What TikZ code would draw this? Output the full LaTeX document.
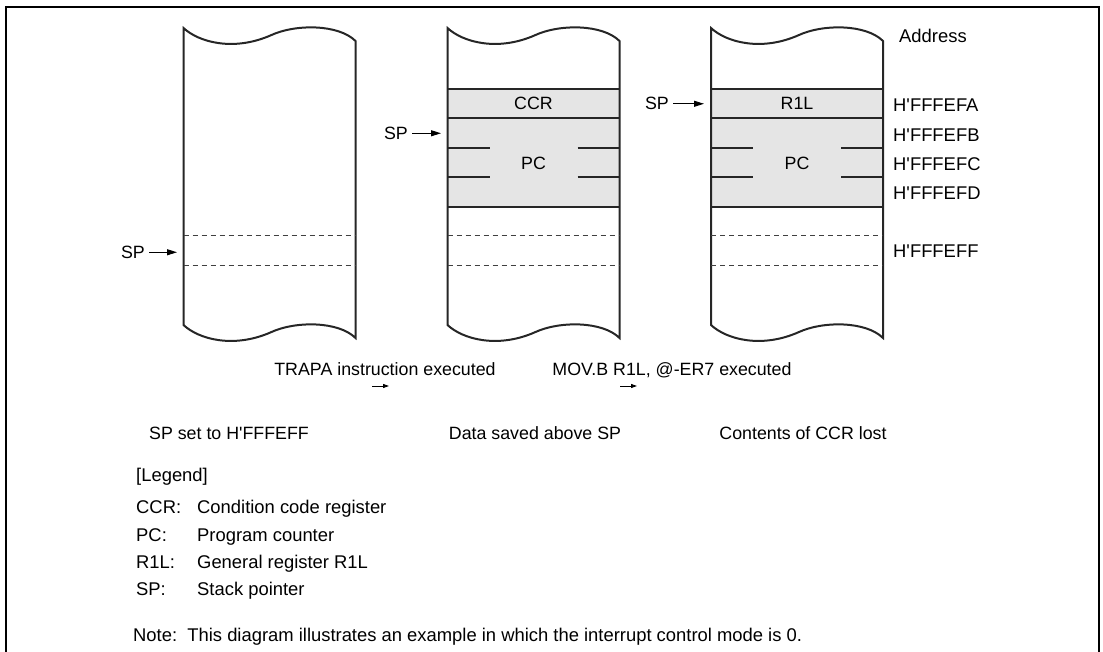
\documentclass[tikz,border=0pt]{standalone}
\usepackage{fontspec}
\setmainfont{Liberation Sans}
\usetikzlibrary{arrows.meta}
\newcommand\hq{H\textquotesingle}
\tikzset{
  txt/.style={inner sep=0pt, font=\fontsize{17.8}{21}\selectfont},
  legtxt/.style={inner sep=0pt, font=\fontsize{18.4}{22}\selectfont},
  colline/.style={line width=2pt, black!85},
  rowline/.style={line width=2pt, black!85},
  dashline/.style={line width=1pt, black!75, dash pattern=on 5pt off 4pt},
  sparrow/.style={line width=1pt, -{Triangle[length=10pt,width=6pt]}},
  smallarrow/.style={line width=1pt, -{Triangle[length=6pt,width=4pt]}},
  stackfill/.style={fill=black!10},
}
\newcommand\stackoutline{%
  \draw[colline] (0,28) .. controls (15,42) and (50,52) .. (88,35)
    .. controls (112,24) and (155,24) .. (172,41) -- (172,338)
    .. controls (155,321) and (112,321) .. (88,332)
    .. controls (50,349) and (15,339) .. (0,325) -- cycle;
  \draw[dashline] (0,236) -- (172,236);
  \draw[dashline] (0,266) -- (172,266);
}
\newcommand\stackfilled{%
  \fill[stackfill] (0,89) rectangle (172,207);
  \draw[rowline] (0,89) -- (172,89);
  \draw[rowline] (0,118) -- (172,118);
  \draw[rowline] (0,207) -- (172,207);
  \draw[rowline] (0,148) -- (42,148);
  \draw[rowline] (130,148) -- (172,148);
  \draw[rowline] (0,177) -- (42,177);
  \draw[rowline] (130,177) -- (172,177);
}
\begin{document}
\begin{tikzpicture}[x=1pt,y=-1pt]
\useasboundingbox (0,0) rectangle (1103,652);
\draw[line width=2.5pt] (6,652) -- (6,7) -- (1099,7) -- (1099,652);

% column 1
\begin{scope}[xshift=183.5pt]
  \stackoutline
\end{scope}
% column 2
\begin{scope}[xshift=447.5pt]
  \stackfilled
  \stackoutline
\end{scope}
% column 3
\begin{scope}[xshift=711pt]
  \stackfilled
  \stackoutline
\end{scope}

% labels inside stacks
\node[txt, anchor=base] (ccr) at (533.5,110) {CCR};
\node[txt, anchor=base] (pc2) at (533.5,169.5) {PC};
\node[txt, anchor=base] (r1l) at (797,110) {R1L};
\node[txt, anchor=base] (pc3) at (797,169.5) {PC};

% SP pointers
\node[txt, anchor=base east] (sp1) at (145,258.4) {SP};
\coordinate (sp1t) at (177,252);
\draw[sparrow] ([xshift=4pt]sp1.east) -- (sp1t |- sp1.east);
\node[txt, anchor=base east] (sp2) at (408,139.4) {SP};
\coordinate (sp2t) at (441,133);
\draw[sparrow] ([xshift=4pt]sp2.east) -- (sp2t |- sp2.east);
\node[txt, anchor=base east] (sp3) at (669,109.9) {SP};
\coordinate (sp3t) at (704,103.5);
\draw[sparrow] ([xshift=4pt]sp3.east) -- (sp3t |- sp3.east);

% addresses
\node[legtxt, anchor=base west] (addr) at (899,42.6) {Address};
\node[legtxt, anchor=base west] (a1) at (893,111.6) {\hq FFFEFA};
\node[legtxt, anchor=base west] (a2) at (893,141.1) {\hq FFFEFB};
\node[legtxt, anchor=base west] (a3) at (893,170.6) {\hq FFFEFC};
\node[legtxt, anchor=base west] (a4) at (893,199.6) {\hq FFFEFD};
\node[legtxt, anchor=base west] (a5) at (893,257.6) {\hq FFFEFF};

% transitions
\node[txt, anchor=base] (t1) at (385,375.4) {TRAPA instruction executed};
\coordinate (t1a) at (372,386);
\coordinate (t1b) at (389,386);
\draw[smallarrow] (t1a) -- (t1b);
\node[txt, anchor=base] (t2) at (672,375.4) {MOV.B R1L, @-ER7 executed};
\coordinate (t2a) at (620,386);
\coordinate (t2b) at (637,386);
\draw[smallarrow] (t2a) -- (t2b);

% captions
\node[txt, anchor=base] (c1) at (229,439.4) {SP set to \hq FFFEFF};
\node[txt, anchor=base] (c2) at (535,439.4) {Data saved above SP};
\node[txt, anchor=base] (c3) at (803,439.4) {Contents of CCR lost};

% legend
\node[legtxt, anchor=base west] (leg) at (136,481.6) {[Legend]};
\node[legtxt, anchor=base west] (l1) at (136,513.6) {CCR:};
\node[legtxt, anchor=base west] (d1) at (197,513.6) {Condition code register};
\node[legtxt, anchor=base west] (l2) at (136,541.6) {PC:};
\node[legtxt, anchor=base west] (d2) at (197,541.6) {Program counter};
\node[legtxt, anchor=base west] (l3) at (136,568.6) {R1L:};
\node[legtxt, anchor=base west] (d3) at (197,568.6) {General register R1L};
\node[legtxt, anchor=base west] (l4) at (136,595.6) {SP:};
\node[legtxt, anchor=base west] (d4) at (197,595.6) {Stack pointer};
\node[legtxt, anchor=base west] (note) at (133,641.6) {Note:\ \ This diagram illustrates an example in which the interrupt control mode is 0.};
\end{tikzpicture}
\end{document}
